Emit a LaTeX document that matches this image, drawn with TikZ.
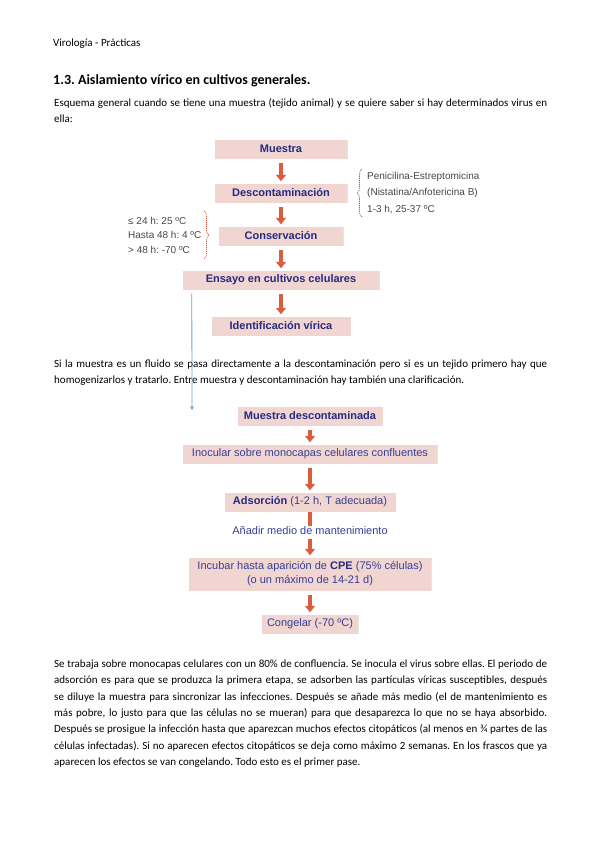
\documentclass[tikz,border=0pt]{standalone}
\usepackage{fontspec}
\setmainfont{Carlito}
\newfontfamily\arial{Liberation Sans}
\usetikzlibrary{arrows.meta,decorations.pathreplacing,shadows}
\definecolor{rosa}{RGB}{241,213,209}
\definecolor{azul}{RGB}{38,42,128}
\definecolor{azulclaro}{RGB}{55,62,150}
\definecolor{naranja}{RGB}{217,94,62}
\definecolor{gristxt}{RGB}{72,72,72}
\definecolor{celeste}{RGB}{110,160,215}
\frenchspacing
\tikzset{
  caja/.style={fill=rosa, inner sep=0pt, minimum height=19pt, text=azulclaro,
    font=\arial\fontsize{11}{14}\selectfont,
    drop shadow={opacity=0.2, shadow xshift=0.8pt, shadow yshift=-0.8pt}},
  negrita/.style={text=azul, font=\arial\bfseries\fontsize{11}{14}\selectfont},
  flecha/.style={naranja, line width=3.7pt, -{Triangle[width=10pt,length=6.5pt]},
    shorten <=4pt, shorten >=2pt},
  barra/.style={naranja, line width=3.7pt},
  lado/.style={anchor=west, inner sep=0pt, text=gristxt, font=\arial\fontsize{10}{12}\selectfont},
  llave/.style={naranja, dash pattern=on 1.2pt off 0.8pt, line width=0.7pt, decorate,
    decoration={brace, amplitude=5pt}},
  parrafo/.style={anchor=base west, inner sep=0pt, text width=493pt, align=justify,
    font=\fontsize{11}{16.3}\selectfont}
}
\begin{document}
\begin{tikzpicture}[x=1pt,y=-1pt]

\fill[white] (0,0) rectangle (599,848);
\useasboundingbox (0,0) rectangle (599,848);

\node[anchor=base west, inner sep=0pt, font=\fontsize{11}{13}\selectfont] (cabecera) at (53,46.5) {Virología - Prácticas};
\node[anchor=base west, inner sep=0pt, font=\bfseries\fontsize{14}{16}\selectfont] (titulo) at (53,84.5) {1.3. Aislamiento vírico en cultivos generales.};
\node[parrafo] (texto1) at (54,106.5) {Esquema general cuando se tiene una muestra (tejido animal) y se quiere saber si hay determinados virus en\linebreak ella:};

\node[caja, negrita, minimum width=132pt] (muestra) at (281,149) {Muestra};
\node[caja, negrita, minimum width=132pt] (descont) at (281,193) {Descontaminación};
\node[caja, negrita, minimum width=124pt] (conserv) at (281,236) {Conservación};
\node[caja, negrita, minimum width=196pt] (ensayo) at (281,280) {Ensayo en cultivos celulares};
\node[caja, negrita, minimum width=139pt] (ident) at (281,326) {Identificación vírica};

\draw[flecha] (muestra) -- (descont);
\draw[flecha] (descont) -- (conserv);
\draw[flecha] (conserv) -- (ensayo);
\draw[flecha] (ensayo) -- (ident);

\draw[llave] (362,217) -- (362,169);
\node[lado] (peni) at (367,177) {Penicilina-Estreptomicina};
\node[lado] (nista) at (367,193) {(Nistatina/Anfotericina B)};
\node[lado] (horas) at (367,210) {1-3 h, 25-37 ºC};

\draw[llave] (204,211) -- (204,259);
\node[lado] (menos) at (128,221) {≤ 24 h: 25 ºC};
\node[lado] (hasta) at (128,235) {Hasta 48 h: 4 ºC};
\node[lado] (mas) at (128,250) {> 48 h: -70 ºC};

\node[parrafo] (texto2) at (54,367.5) {Si la muestra es un fluido se pasa directamente a la descontaminación pero si es un tejido primero hay que\linebreak homogenizarlos y tratarlo. Entre muestra y descontaminación hay también una clarificación.};

\coordinate (ini) at ([xshift=9pt,yshift=-4pt]ensayo.south west);
\coordinate (fin) at (192,410);
\draw[celeste, line width=0.8pt, -{Stealth[length=4pt,width=4pt]}] (ini) -- (fin);

\node[caja, negrita, minimum width=145pt] (mdesc) at (310,416) {Muestra descontaminada};
\node[caja, minimum width=254pt] (inocular) at (310,454) {Inocular sobre monocapas celulares confluentes};
\node[caja, minimum width=171pt] (adsor) at (310,502) {\textbf{\color{azul}Adsorción} (1-2 h, T adecuada)};
\node[inner sep=0pt, text=azulclaro, font=\arial\fontsize{11}{14}\selectfont] (anadir) at (310,531) {Añadir medio de mantenimiento};
\node[caja, minimum width=242pt, minimum height=33pt, align=center,
  font=\arial\fontsize{11}{14}\selectfont] (incubar) at (310,574) {Incubar hasta aparición de \textbf{\color{azul}CPE} (75\% células)\\(o un máximo de 14-21 d)};
\node[caja, minimum width=96pt] (congelar) at (310,624) {Congelar (-70 ºC)};

\draw[flecha] (mdesc) -- (inocular);
\draw[flecha] (inocular) -- (adsor);
\draw[barra] (adsor.south) -- ([yshift=1pt]anadir.north);
\draw[flecha] (anadir) -- (incubar);
\draw[flecha] (incubar) -- (congelar);

\node[parrafo] (texto3) at (54,667.5) {Se trabaja sobre monocapas celulares con un 80\% de confluencia. Se inocula el virus sobre ellas. El periodo de\linebreak adsorción es para que se produzca la primera etapa, se adsorben las partículas víricas susceptibles, después\linebreak se diluye la muestra para sincronizar las infecciones. Después se añade más medio (el de mantenimiento es\linebreak más pobre, lo justo para que las células no se mueran) para que desaparezca lo que no se haya absorbido.\linebreak Después se prosigue la infección hasta que aparezcan muchos efectos citopáticos (al menos en ¾ partes de las\linebreak células infectadas). Si no aparecen efectos citopáticos se deja como máximo 2 semanas. En los frascos que ya\linebreak aparecen los efectos se van congelando. Todo esto es el primer pase.};

\end{tikzpicture}
\end{document}
